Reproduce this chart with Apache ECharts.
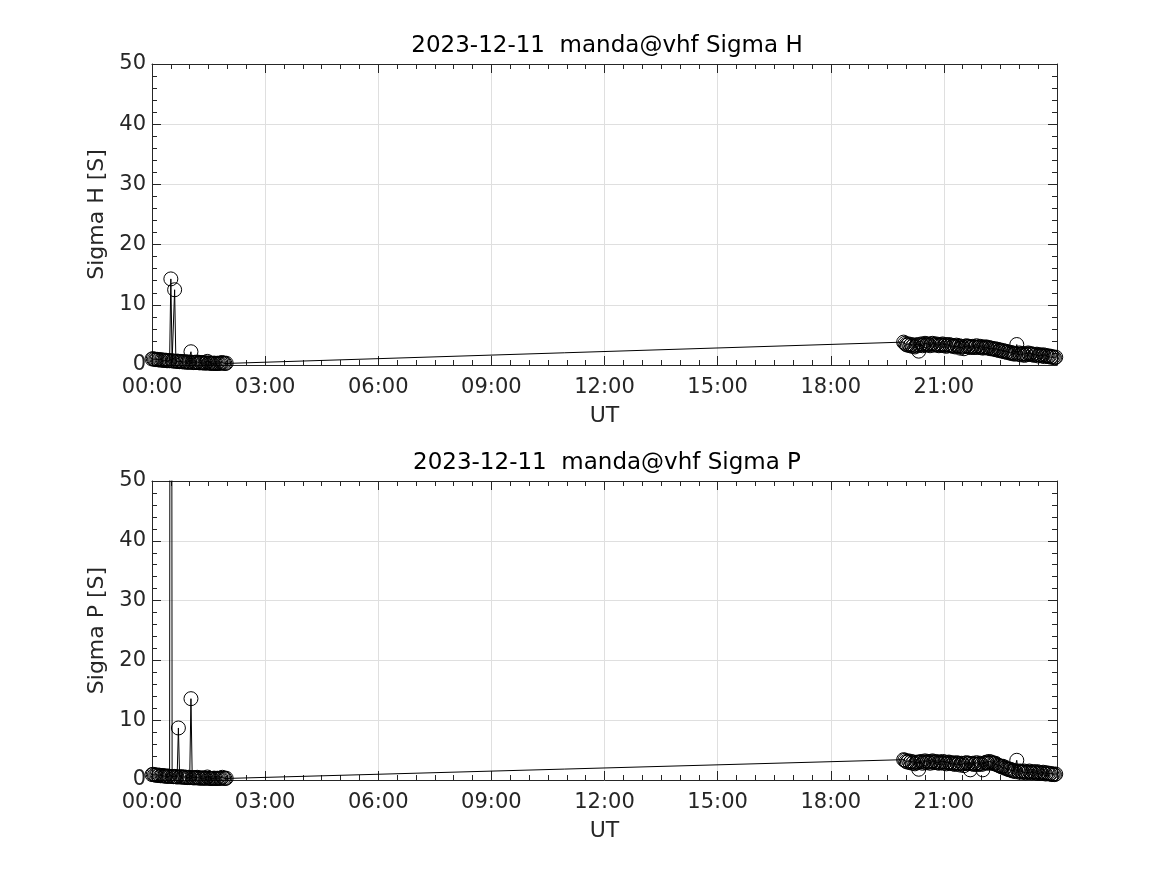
<!DOCTYPE html>
<html>
<head>
<meta charset="utf-8">
<script src="https://cdn.jsdelivr.net/npm/echarts@6/dist/echarts.min.js"></script>
<style>
html,body{margin:0;padding:0;background:#fff;}
#chart{width:1167px;height:875px;}
</style>
</head>
<body>
<div id="chart"></div>
<script>
// ---- data (sample time in minutes of day UT; conductances in S) ----
const titleH = '2023-12-11  manda@vhf Sigma H';
const titleP = '2023-12-11  manda@vhf Sigma P';
const yNameH = 'Sigma H [S]';
const yNameP = 'Sigma P [S]';
const xName = 'UT';
const xTicks = [0, 180, 360, 540, 720, 900, 1080, 1260];
const yTicks = [0, 10, 20, 30, 40, 50];

const times = [
  0,2,4,6,8,10,12,14,16,18, 20,22,24,26,28,30,32,34,36,38,
  40,42,44,46,48,50,52,54,56,58, 60,62,64,66,68,70,72,74,76,78,
  80,82,84,86,88,90,92,94,96,98, 100,102,104,106,108,110,112,114,116,118,
  1196,1198,1200,1202,1204,1206,1208,1210,1212,1214,
  1216,1218,1220,1222,1224,1226,1228,1230,1232,1234,
  1236,1238,1240,1242,1244,1246,1248,1250,1252,1254,
  1256,1258,1260,1262,1264,1266,1268,1270,1272,1274,
  1276,1278,1280,1282,1284,1286,1288,1290,1292,1294,
  1296,1298,1300,1302,1304,1306,1308,1310,1312,1314,
  1316,1318,1320,1322,1324,1326,1328,1330,1332,1334,
  1336,1338,1340,1342,1344,1346,1348,1350,1352,1354,
  1356,1358,1360,1362,1364,1366,1368,1370,1372,1374,
  1376,1378,1380,1382,1384,1386,1388,1390,1392,1394,
  1396,1398,1400,1402,1404,1406,1408,1410,1412,1414,
  1416,1418,1420,1422,1424,1426,1428,1430,1432,1434,
  1436,1438];

const valuesH = [
  1.0,1.05,0.95,0.9,0.95,0.85,0.9,0.8,0.85,0.8, 0.75,0.8,0.7,0.75,0.7,14.3,0.7,0.65,12.5,0.6,
  0.65,0.6,0.55,0.6,0.55,0.5,0.55,0.5,0.45,0.5, 0.45,2.2,0.45,0.4,0.45,0.4,0.5,0.4,0.35,0.4,
  0.35,0.4,0.3,0.35,0.6,0.3,0.35,0.3,0.25,0.3, 0.3,0.25,0.3,0.25,0.3,0.35,0.4,0.3,0.25,0.3,
  3.8,3.6,3.4,3.3,3.5,3.2,3.4,3.1,3.3,3.0,
  3.2,3.4,2.3,3.3,3.5,3.2,3.4,3.6,3.3,3.5,
  3.4,3.2,3.5,3.6,3.3,3.4,3.5,3.3,3.2,3.4,
  3.3,3.5,3.2,3.4,3.1,3.3,3.4,3.2,3.3,3.1,
  3.2,3.0,3.3,3.1,3.2,2.8,3.1,3.0,2.7,3.1,
  3.2,3.0,3.1,2.9,3.0,3.1,2.9,3.0,3.2,2.9,
  3.0,3.1,2.9,2.8,3.0,2.9,3.0,2.8,2.9,2.7,
  2.8,2.7,2.6,2.7,2.5,2.6,2.4,2.5,2.3,2.4,
  2.2,2.3,2.1,2.2,2.0,2.1,1.9,2.0,1.8,1.9,
  3.4,1.8,2.0,1.7,1.9,1.8,1.6,1.9,1.7,2.0,
  1.8,1.9,1.7,1.8,1.6,1.7,1.8,1.5,1.7,1.6,
  1.5,1.7,1.4,1.6,1.5,1.4,1.5,1.3,1.4,1.3,
  1.2,1.3];

const valuesP = [
  0.9,0.95,0.85,0.8,0.85,0.75,0.8,0.7,0.75,0.7, 0.65,0.7,0.6,0.65,0.6,260,0.6,0.55,0.6,0.55,
  0.5,8.7,0.5,0.55,0.5,0.45,0.5,0.45,0.4,0.45, 0.4,13.6,0.4,0.35,0.4,0.35,0.45,0.35,0.3,0.35,
  0.3,0.35,0.3,0.3,0.5,0.3,0.3,0.25,0.25,0.3, 0.3,0.25,0.3,0.25,0.3,0.3,0.45,0.3,0.25,0.3,
  3.4,3.3,3.1,3.0,3.2,2.9,3.1,2.8,3.0,2.7,
  2.9,3.0,1.8,3.0,3.1,2.8,3.0,3.2,2.9,3.1,
  3.0,2.8,3.1,3.2,2.9,3.0,3.1,2.9,2.8,3.0,
  2.9,3.1,2.8,3.0,2.7,2.9,3.0,2.8,2.9,2.7,
  2.8,2.6,2.9,2.7,2.8,2.5,2.8,2.7,2.4,2.8,
  2.9,2.7,2.8,1.7,2.7,2.8,2.6,2.7,2.9,2.6,
  2.7,2.8,2.6,1.7,2.8,2.9,3.0,2.8,3.1,2.9,
  3.0,2.8,2.7,2.8,2.6,2.5,2.4,2.3,2.2,2.3,
  2.0,2.1,1.9,1.8,1.7,1.8,1.6,1.5,1.6,1.4,
  3.3,1.5,1.3,1.5,1.4,1.3,1.5,1.2,1.4,1.3,
  1.5,1.3,1.2,1.4,1.3,1.2,1.4,1.1,1.3,1.2,
  1.1,1.3,1.2,1.0,1.2,1.1,1.0,1.1,0.9,1.0,
  0.9,1.0];

// ---- chart ----
const pad = n => String(n).padStart(2, '0');
const fmtTime = m => pad(Math.floor(m / 60)) + ':' + pad(m % 60);
const FONT = 'DejaVu Sans';
const AX = '#262626';

const grids = [
  {left: 152, top: 64, width: 905, height: 301},
  {left: 152, top: 481, width: 905, height: 299}
];

function xAxes(gi, withName) {
  const base = {
    gridIndex: gi, type: 'value', min: 0, max: 1440, interval: xTicks[1] - xTicks[0],
    axisLine: {show: true, onZero: false, lineStyle: {color: AX, width: 1}},
    axisTick: {show: true, inside: true, length: 9, lineStyle: {color: AX}},
    minorTick: {show: true, splitNumber: 6, length: 5, lineStyle: {color: AX}},
  };
  return [
    Object.assign({}, base, {
      position: 'bottom',
      name: withName, nameLocation: 'middle', nameGap: 40,
      nameTextStyle: {fontFamily: FONT, fontSize: 22, color: AX},
      axisLabel: {fontFamily: FONT, fontSize: 21, color: AX, margin: 12,
        formatter: v => xTicks.indexOf(v) >= 0 ? fmtTime(v) : ''},
      splitLine: {show: true, lineStyle: {color: '#dfdfdf', width: 1}}
    }),
    Object.assign({}, base, {
      position: 'top', axisLabel: {show: false}, splitLine: {show: false}
    })
  ];
}

function yAxes(gi, name) {
  const base = {
    gridIndex: gi, type: 'value', min: yTicks[0], max: yTicks[yTicks.length - 1], interval: yTicks[1] - yTicks[0],
    axisLine: {show: true, onZero: false, lineStyle: {color: AX, width: 1}},
    axisTick: {show: true, inside: true, length: 9, lineStyle: {color: AX}},
    minorTick: {show: true, splitNumber: 5, length: 5, lineStyle: {color: AX}},
  };
  return [
    Object.assign({}, base, {
      position: 'left',
      name: name, nameLocation: 'middle', nameGap: 44, nameRotate: 90,
      nameTextStyle: {fontFamily: FONT, fontSize: 22, color: AX},
      axisLabel: {fontFamily: FONT, fontSize: 21, color: AX, margin: 6},
      splitLine: {show: true, lineStyle: {color: '#dfdfdf', width: 1}}
    }),
    Object.assign({}, base, {
      position: 'right', axisLabel: {show: false}, splitLine: {show: false}
    })
  ];
}

function mkSeries(xi, yi, ts, vals) {
  return {
    type: 'line', xAxisIndex: xi, yAxisIndex: yi,
    data: ts.map((t, i) => [t, vals[i]]),
    symbol: 'circle', symbolSize: 14, showSymbol: true, showAllSymbol: true,
    itemStyle: {color: 'rgba(0,0,0,0)', borderColor: '#000', borderWidth: 1},
    lineStyle: {color: '#000', width: 1},
    clip: true, animation: false, silent: true
  };
}

const chart = echarts.init(document.getElementById('chart'), null, {renderer: 'canvas'});
chart.setOption({
  backgroundColor: '#fff',
  animation: false,
  grid: grids,
  xAxis: [].concat(xAxes(0, xName), xAxes(1, xName)),
  yAxis: [].concat(yAxes(0, yNameH), yAxes(1, yNameP)),
  graphic: [
    {type: 'text', x: 607, y: 46, style: {text: titleH, font: '23px "DejaVu Sans"', fill: '#000', textAlign: 'center', textVerticalAlign: 'middle'}},
    {type: 'text', x: 607, y: 463, style: {text: titleP, font: '23px "DejaVu Sans"', fill: '#000', textAlign: 'center', textVerticalAlign: 'middle'}}
  ],
  series: [
    mkSeries(0, 0, times, valuesH),
    mkSeries(2, 2, times, valuesP)
  ]
});
</script>
</body>
</html>
